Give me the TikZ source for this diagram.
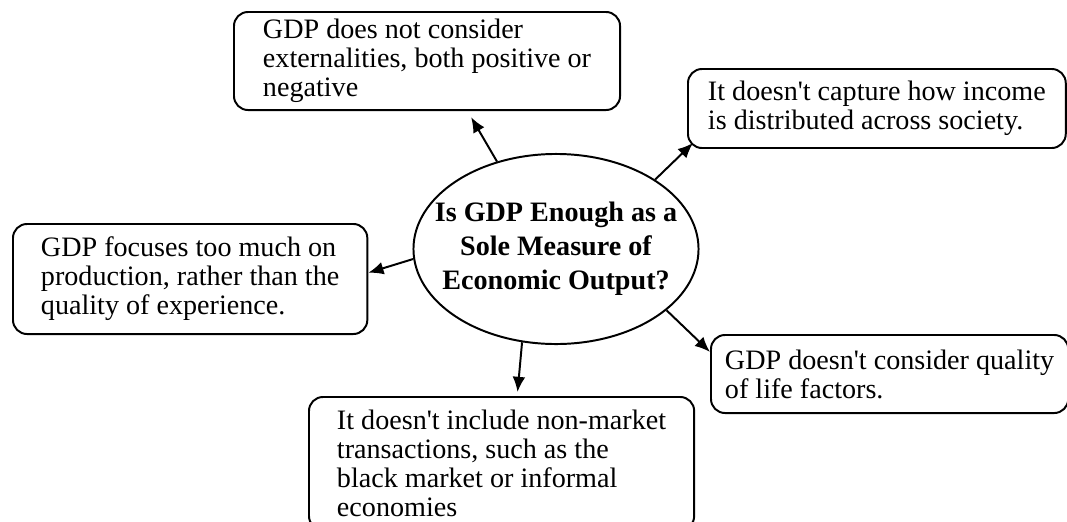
\documentclass[tikz,border=0pt]{standalone}
\usepackage{fontspec}
\setmainfont{Liberation Serif}
\usetikzlibrary{shapes.geometric}
\usetikzlibrary{arrows.meta}
\usetikzlibrary{calc}

\begin{document}
\begin{tikzpicture}[x=0.025cm, y=-0.025cm]
            \tikzstyle{idea_node}=[rectangle, draw, rounded corners=0.35cm, line width=1.4pt, fill=white, align=left, anchor=west, inner ysep=0pt, font=\fontsize{20pt}{20.6pt}\selectfont];
            \tikzstyle{question_node}=[ellipse, draw, line width=1.4pt, fill=white, align=center, inner xsep=-0.55cm, inner ysep=0pt, minimum width=7.125cm, minimum height=4.75cm, font=\fontsize{20pt}{24.1pt}\selectfont\bfseries];
            \tikzstyle{arrow}=[-{Latex[length=0.38cm, width=0.32cm]}, line width=1.4pt];

            \useasboundingbox (0,0) rectangle (1067,521);
            \clip (0,0) rectangle (1067,521);

            % Question
            \node(question) [question_node] at (556,249) {Is GDP Enough as a\\Sole Measure of\\Economic Output?};

            % Criticisms
            \node(externalities) [idea_node, inner xsep=0.725cm, minimum height=2.45cm] at (233,61) {GDP does not consider\\externalities, both positive or\\negative};
            \node(income) [idea_node, inner xsep=0.5cm, minimum height=1.975cm] at (687,108.5) {It doesn\textquotesingle t capture how income\\is distributed across society.};
            \node(production) [idea_node, inner xsep=0.7cm, minimum height=2.75cm] at (12,279) {GDP focuses too much on\\production, rather than the\\quality of experience.};
            \node(quality) [idea_node, inner xsep=0.35cm, minimum height=1.95cm] at (710,374) {GDP doesn\textquotesingle t consider quality\\of life factors.};
            \node(non_market) [idea_node, inner xsep=0.7cm, minimum height=3.325cm] at (308,463.5) {It doesn\textquotesingle t include non-market\\transactions, such as the\\black market or informal\\economies};

            % Arrows
            \draw[arrow, shorten >=0.18cm] (question.124) -- (externalities.-51);
            \draw[arrow] (question.35) -- ($(income.south west)+(6,-6)$);
            \draw[arrow] (question.184) -- (production.2);
            \draw[arrow] (question.-29) -- (quality.173);
            \draw[arrow, shorten >=0.1cm] (question.250) -- (non_market.77);
        \end{tikzpicture}
\end{document}
